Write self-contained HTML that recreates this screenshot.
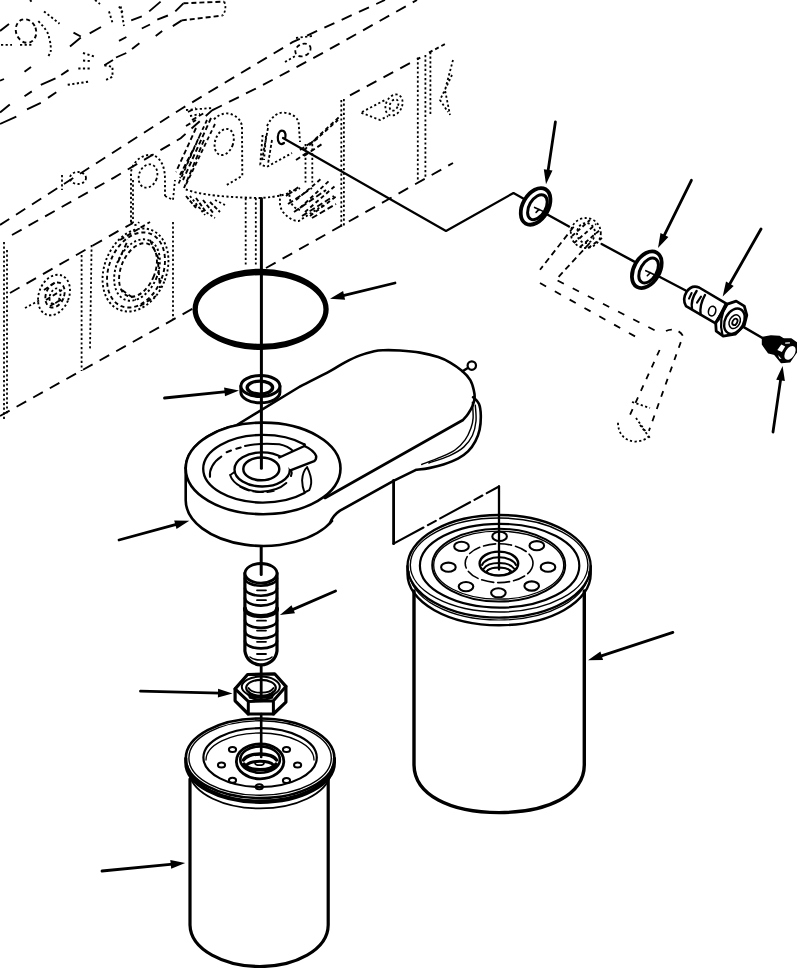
<!DOCTYPE html>
<html><head><meta charset="utf-8"><title>Filter assembly</title>
<style>html,body{margin:0;padding:0;background:#fff;}svg{display:block}</style></head>
<body><svg width="797" height="968" viewBox="0 0 797 968" shape-rendering="geometricPrecision">
<rect width="797" height="968" fill="#fff"/>
<g id="phantom" stroke-linecap="butt">
<path d="M0 416 L193 308.5 M266 268 L453 163" fill="none" stroke="#000" stroke-width="1.9" stroke-dasharray="11 8" />
<path d="M0 225 L180.7 109.2 L292.5 42.2 L385 0" fill="none" stroke="#000" stroke-width="1.9" stroke-dasharray="11 8" />
<path d="M12 235 L114.5 177.3 L180.7 138.2 L212 110.4 M212 110.4 L260.4 86.3 L320.6 54.2 L417 0" fill="none" stroke="#000" stroke-width="1.9" stroke-dasharray="11 8" />
<path d="M10 293 L120 230 L133 223" fill="none" stroke="#000" stroke-width="1.9" stroke-dasharray="11 8" />
<path d="M0 31 L9 24 M24.5 71.8 L31 66.9 M0 80.7 L4 79 M24.5 96.2 L31.8 91.4 M40.8 84.8 L55.5 78.3 M61.2 75 L68.5 70.1 M0 112.6 L9.8 104.4 M27 109.3 L40.8 102.8 M48 97.9 L56.3 92.2 M0 124 L16.3 116.6 M70 46.5 L80.8 37.5 M73.5 32.6 L80.8 36.5 M89.7 33.4 L101 27 M119 40.8 L126.4 37 M104.4 65.3 L113 60 M116 57.5 L126.3 53 M131.2 20.4 L141.8 16.3 M149.2 11.4 L160.6 1.6 M141.8 28.5 L150 24.5 M157.3 19.6 L167.9 15.5 M155.7 35.9 L162.2 31 M132 49 L139.4 43.2 M172.8 26.1 L181.8 20.4 M175.3 11.4 L183.4 3.3" fill="none" stroke="#000" stroke-width="1.9" />
<path d="M183.4 3.3 L224.2 1.6 M181.8 20.4 L222.6 15.5" fill="none" stroke="#000" stroke-width="1.9" stroke-dasharray="5 3" />
<path d="M224.2 1.6 C226 6 226 11 222.6 15.5" fill="none" stroke="#000" stroke-width="1.8" stroke-dasharray="2.2 2.4" />
<ellipse cx="26" cy="31" rx="10" ry="12" fill="none" stroke="#000" stroke-width="1.9" stroke-dasharray="4 3" transform="rotate(-20 26 31)"/>
<path d="M1 44.9 L12 44.9 M20 44.9 L32 44.9" fill="none" stroke="#000" stroke-width="1.9" stroke-dasharray="2.2 2.4" />
<path d="M44 11.4 L59.5 23.7" fill="none" stroke="#000" stroke-width="1.9" stroke-dasharray="2.2 2.4" />
<path d="M38.3 21.2 C44 27 49 33 49 37.5 C51 44 51 49 50.6 52.2 L47.3 58" fill="none" stroke="#000" stroke-width="1.9" stroke-dasharray="2.2 2.4" />
<path d="M83 53 L96 57 M83 60.5 L91.5 61.2 M78.3 68.5 L89.7 68.5 M67.7 84.8 L89 81.6" fill="none" stroke="#000" stroke-width="2.0" stroke-dasharray="2.2 2.4" />
<path d="M104.4 65.3 L112.5 66.9 L112.5 76.7 L104.4 80.7" fill="none" stroke="#000" stroke-width="1.9" stroke-dasharray="2.2 2.4" />
<path d="M109 11.4 L112.5 22.8 M120.7 6.5 L124 26 M119 6.5 L123 13" fill="none" stroke="#000" stroke-width="1.9" stroke-dasharray="2.2 2.4" />
<path d="M95 0 L100 4 M30 0 L32 2" fill="none" stroke="#000" stroke-width="1.9" stroke-dasharray="2.2 2.4" />
<path d="M4 242 L4 421 M7 250 L7 415" fill="none" stroke="#000" stroke-width="1.8" stroke-dasharray="2.2 2.4" />
<path d="M81.6 255 L81.6 371 M91.6 245 L90 350" fill="none" stroke="#000" stroke-width="1.8" stroke-dasharray="2.2 2.4" />
<path d="M173 222 L173 320" fill="none" stroke="#000" stroke-width="1.8" stroke-dasharray="2.2 2.4" />
<path d="M133 180 L133 223" fill="none" stroke="#000" stroke-width="1.8" stroke-dasharray="2.2 2.4" />
<ellipse cx="135.5" cy="270" rx="31" ry="43" fill="none" stroke="#000" stroke-width="1.9" stroke-dasharray="2.2 2.4" transform="rotate(22 135.5 270)"/>
<ellipse cx="136" cy="270" rx="27" ry="39" fill="none" stroke="#000" stroke-width="1.9" stroke-dasharray="4 3" transform="rotate(22 136 270)"/>
<ellipse cx="137" cy="270" rx="21" ry="32" fill="none" stroke="#000" stroke-width="1.9" stroke-dasharray="2.2 2.4" transform="rotate(22 137 270)"/>
<ellipse cx="138" cy="270" rx="17" ry="28" fill="none" stroke="#000" stroke-width="1.9" stroke-dasharray="4 3" transform="rotate(22 138 270)"/>
<ellipse cx="54" cy="295" rx="15" ry="21" fill="none" stroke="#000" stroke-width="1.9" stroke-dasharray="2.2 2.4" transform="rotate(22 54 295)"/>
<ellipse cx="55" cy="295" rx="9" ry="13" fill="none" stroke="#000" stroke-width="1.9" stroke-dasharray="4 3" transform="rotate(22 55 295)"/>
<ellipse cx="55" cy="296" rx="5" ry="8" fill="none" stroke="#000" stroke-width="1.8" stroke-dasharray="2.2 2.4" transform="rotate(22 55 296)"/>
<path d="M25 308 L40 300" fill="none" stroke="#000" stroke-width="1.8" stroke-dasharray="2.2 2.4" />
<ellipse cx="78" cy="178" rx="8" ry="6" fill="none" stroke="#000" stroke-width="1.8" stroke-dasharray="2.2 2.4"/>
<path d="M62 175 L62 190" fill="none" stroke="#000" stroke-width="1.8" stroke-dasharray="2.2 2.4" />
<path d="M131 222 L131 172 C133 160 145 152 155 156 C162 160 165 168 165 180 L165 196" fill="none" stroke="#000" stroke-width="1.9" stroke-dasharray="2.2 2.4" />
<ellipse cx="148" cy="176" rx="9" ry="12" fill="none" stroke="#000" stroke-width="1.8" stroke-dasharray="2.2 2.4" transform="rotate(20 148 176)"/>
<path d="M131 222 C133 226 137 226 139 222" fill="none" stroke="#000" stroke-width="1.8" stroke-dasharray="2.2 2.4" />
<path d="M165 196 L173 200 L175 180" fill="none" stroke="#000" stroke-width="1.8" stroke-dasharray="2.2 2.4" />
<path d="M214 119.4 C220 113 228 112 233 115 C239 118 242 122 242 128 L242.3 175.8 L225 186" fill="none" stroke="#000" stroke-width="1.9" stroke-dasharray="2.2 2.4" />
<ellipse cx="224.2" cy="142" rx="9" ry="13.5" fill="none" stroke="#000" stroke-width="1.9" stroke-dasharray="2.2 2.4" transform="rotate(20 224.2 142)"/>
<path d="M215 124 L185.8 185 M207 120 L180 178 M200 135 L178 185" fill="none" stroke="#000" stroke-width="1.8" stroke-dasharray="4 3" />
<path d="M186 110 L212 108 M190 116 L200 114" fill="none" stroke="#000" stroke-width="1.8" stroke-dasharray="2.2 2.4" />
<path d="M185.8 189.4 C200 195 226 197.3 260 198 C278 197 290 194 300 188" fill="none" stroke="#000" stroke-width="1.9" stroke-dasharray="2.2 2.4" />
<path d="M190 196 L205 215 M215 200 L225 205 M195 205 L215 218" fill="none" stroke="#000" stroke-width="1.8" stroke-dasharray="2.2 2.4" />
<path d="M245.7 198 L245.7 266 M255.8 198 L255.8 266" fill="none" stroke="#000" stroke-width="1.8" stroke-dasharray="2.2 2.4" />
<path d="M267 126 C272 116 278 112.6 283 112.6 C292 113 298.7 118 298.7 123.9 L300 142" fill="none" stroke="#000" stroke-width="1.9" stroke-dasharray="2.2 2.4" />
<path d="M262.6 135 L260.3 164.5 L267 166.8 L292 153 M266 136 L264 160" fill="none" stroke="#000" stroke-width="1.9" stroke-dasharray="2.2 2.4" />
<path d="M343.9 99 L343.9 225.5" fill="none" stroke="#000" stroke-width="1.8" stroke-dasharray="2.2 2.4" />
<path d="M341.3 100 L341.3 228" fill="none" stroke="#000" stroke-width="1.8" stroke-dasharray="2.2 2.4" />
<path d="M280.7 193.9 C279 203 280 208 283 212 C288 218 293 221 298.7 221 L323.6 205" fill="none" stroke="#000" stroke-width="1.9" stroke-dasharray="2.2 2.4" />
<path d="M290 190 C288 200 292 208 300 210" fill="none" stroke="#000" stroke-width="1.9" stroke-dasharray="2.2 2.4" />
<path d="M300 208 L330 180 M305 212 L335 186 M296 200 L322 178 M310 216 L338 195" fill="none" stroke="#000" stroke-width="1.9" stroke-dasharray="4 3" />
<path d="M305.5 144 L305.5 182.6 M312.3 144 L312.3 182.6" fill="none" stroke="#000" stroke-width="1.8" stroke-dasharray="2.2 2.4" />
<path d="M310 144 L341.6 114.8 M304 150 L338 120" fill="none" stroke="#000" stroke-width="1.8" stroke-dasharray="4 3" />
<ellipse cx="303" cy="50" rx="8" ry="6" fill="none" stroke="#000" stroke-width="1.8" stroke-dasharray="4 3" transform="rotate(-25 303 50)"/>
<path d="M296 38 L312 36 M285 62 L297 55" fill="none" stroke="#000" stroke-width="1.8" stroke-dasharray="2.2 2.4" />
<path d="M350 95.3 L420.3 57.6" fill="none" stroke="#000" stroke-width="1.9" stroke-dasharray="11 8" />
<path d="M417.8 57.6 L417.8 180.6 M425.4 55 L425.4 178 M430.4 52 L430.4 115" fill="none" stroke="#000" stroke-width="1.8" stroke-dasharray="2.2 2.4" />
<path d="M429 52.6 L445.4 43.8" fill="none" stroke="#000" stroke-width="1.9" stroke-dasharray="4 3" />
<path d="M453 60 L445 90 L450 115 M452 75 L440 100 L448 112" fill="none" stroke="#000" stroke-width="1.8" stroke-dasharray="2.2 2.4" />
<ellipse cx="394" cy="105" rx="8" ry="11" fill="none" stroke="#000" stroke-width="1.8" stroke-dasharray="2.2 2.4" transform="rotate(25 394 105)"/>
<ellipse cx="394" cy="105" rx="4" ry="6" fill="none" stroke="#000" stroke-width="1.8" stroke-dasharray="2.2 2.4" transform="rotate(25 394 105)"/>
<path d="M361.4 112.8 L380 120 L388 116 M362 112 L385 100" fill="none" stroke="#000" stroke-width="1.8" stroke-dasharray="2.2 2.4" />
<ellipse cx="585.8" cy="233" rx="15" ry="15" fill="none" stroke="#000" stroke-width="1.8" stroke-dasharray="2.2 2.4"/>
<ellipse cx="586" cy="233" rx="9" ry="10" fill="none" stroke="#000" stroke-width="1.8" stroke-dasharray="2.2 2.4"/>
<path d="M572 236 L590 220 M574 243 L596 224 M580 247 L600 230 M588 248 L602 238" fill="none" stroke="#000" stroke-width="1.9" stroke-dasharray="4 3" />
<path d="M573.7 226.8 L540 269.8 M589.8 243 L557.6 277.9" fill="none" stroke="#000" stroke-width="1.8" stroke-dasharray="6 4" />
<path d="M557.6 280.5 L657 331.5 M540 283 L640.8 339.6" fill="none" stroke="#000" stroke-width="1.8" stroke-dasharray="7 10" />
<path d="M666 331 C672 328 680 330 683 336 L648.9 430.9 M659.6 350 L630 414.8" fill="none" stroke="#000" stroke-width="1.8" stroke-dasharray="6 7" />
<path d="M618 422.8 C618 434 625 441 635.4 441.6 C642 441 647 439 648.9 436" fill="none" stroke="#000" stroke-width="1.8" stroke-dasharray="2.2 2.4" />
<path d="M632 402 L650 408 M636 418 L646 432 M640 425 L650 438" fill="none" stroke="#000" stroke-width="1.8" stroke-dasharray="2.2 2.4" />
<path d="M211 118 L183 180 M196 128 L176 172 M204 140 L184 188 M193 150 L180 175" fill="none" stroke="#000" stroke-width="1.9" stroke-dasharray="5 3" />
<path d="M188 112 L196 108 M192 120 L204 113 M186 126 L196 120" fill="none" stroke="#000" stroke-width="1.9" stroke-dasharray="5 3" />
<path d="M196 198 L206 212 M203 200 L214 214 M210 202 L220 212 M186 196 L196 208" fill="none" stroke="#000" stroke-width="1.9" stroke-dasharray="4 2" />
<path d="M286 196 L300 186 M288 204 L312 188 M294 212 L326 190 M302 216 L334 196 M312 218 L336 204" fill="none" stroke="#000" stroke-width="1.9" stroke-dasharray="6 3" />
<path d="M268 128 L262 160 M272 140 L268 164" fill="none" stroke="#000" stroke-width="1.8" stroke-dasharray="3 2" />
<path d="M300 150 L318 138 M304 156 L322 144 M296 160 L308 152" fill="none" stroke="#000" stroke-width="1.9" stroke-dasharray="5 3" />
<path d="M120 240 L150 222 M118 262 L128 240 M122 290 L136 300 M140 306 L156 296 M150 240 L160 262 M158 262 L160 288" fill="none" stroke="#000" stroke-width="1.9" stroke-dasharray="5 3" />
<path d="M44 290 L56 282 M46 300 L62 290 M50 306 L64 298" fill="none" stroke="#000" stroke-width="1.9" stroke-dasharray="5 3" />
</g>
<g id="solid" stroke-linecap="round" stroke-linejoin="round">
<path fill="#000" fill-rule="evenodd" d="M192.5 309.35 a68.1 40.65 0 1 0 136.2 0 a68.1 40.65 0 1 0 -136.2 0 Z M197.8 309.5 a62.8 34.3 0 1 0 125.6 0 a62.8 34.3 0 1 0 -125.6 0 Z"/>
<path d="M240.9 386 L240.9 392.3 A19.5 10.5 0 0 0 279.9 392.3 L279.9 386" fill="#fff" stroke="#000" stroke-width="3.0" />
<ellipse cx="260.4" cy="386" rx="19.5" ry="10.5" fill="#fff" stroke="#000" stroke-width="3.0" />
<ellipse cx="259.9" cy="387.6" rx="12.7" ry="6.5" fill="none" stroke="#000" stroke-width="3.4" />
<path d="M185.7 468 A77.4 45.8 0 0 1 236 425.5 L300 386.5 C305.0 383.9 322.5 375.1 330 371.1 C337.5 367.1 340.0 364.9 345 362.3 C350.0 359.7 355.2 357.2 360.1 355.4 C365.0 353.5 370.4 352.1 374.2 351.2 C378.0 350.3 378.9 350.3 383.2 350.2 C387.5 350.1 393.9 350.1 400 350.5 C406.1 350.9 413.7 351.5 420.1 352.6 C426.5 353.7 433.2 355.4 438.2 357.1 C443.2 358.8 446.2 360.3 450.2 362.6 C454.2 364.9 458.8 368.2 462.2 371.1 C465.6 374.0 468.4 377.0 470.3 380.2 C472.2 383.4 473.1 387.2 473.8 390.2 C474.5 393.2 474.8 395.4 474.6 398 C474.4 400.6 473.6 403.3 472.5 406 C471.4 408.7 469.6 411.7 468 414 C466.4 416.3 463.8 419.0 463 420  L325 498" fill="#fff" stroke="#000" stroke-width="2.6" />
<path d="M473.1 397.2 C474.1 398.3 477.6 400.7 478.9 403.7 C480.2 406.7 480.7 411.0 480.8 415.3 C480.9 419.6 480.5 425.4 479.6 429.7 C478.7 434.0 477.2 437.7 475.3 441.3 C473.4 444.9 470.9 448.5 468 451.4 C465.1 454.3 462.0 456.5 457.9 458.7 C453.8 460.9 448.2 462.9 443.4 464.5 C438.6 466.1 433.5 467.2 428.9 468.1 C424.3 469.0 418.1 469.5 416 469.8  L394 480.6 L340 510.7 C335 514 332 518 330 523" fill="none" stroke="#000" stroke-width="2.6" />
<path d="M472.4 402.2 C472.5 404.9 473.4 413.8 473.1 418.1 C472.9 422.5 472.2 424.7 470.9 428.3 C469.6 431.9 467.8 436.3 465.1 439.9 C462.5 443.5 459.1 447.1 455 450 C450.9 452.9 446.1 454.8 440.5 457.2 C434.9 459.6 424.8 463.3 421.7 464.5 " fill="none" stroke="#000" stroke-width="1.43" />
<path d="M475.3 405.1 C475.4 407.8 476.5 415.9 476 421 C475.5 426.1 474.4 431.1 472.4 435.5 C470.3 439.9 467.6 443.7 463.7 447.1 C459.8 450.5 455.0 453.2 449.2 455.8 C443.4 458.4 432.3 461.8 428.9 463 " fill="none" stroke="#000" stroke-width="1.43" />
<ellipse cx="471.8" cy="365.6" rx="4.2" ry="4.2" fill="#fff" stroke="#000" stroke-width="2.21" />
<line x1="467.8" y1="368" x2="462.5" y2="371.3" stroke="#000" stroke-width="2.47" />
<ellipse cx="263.1" cy="468.4" rx="77.4" ry="45.8" fill="#fff" stroke="#000" stroke-width="2.6" />
<path d="M185.7 468 L185.7 500 A77.4 45.8 0 0 0 332 521" fill="none" stroke="#000" stroke-width="2.6" />
<path d="M304.5 444.5 A59.7 33.8 0 1 0 304.5 493" fill="none" stroke="#000" stroke-width="2.34" />
<path d="M210 476.8 C209 470 213 462 221.3 456.6" fill="none" stroke="#000" stroke-width="2.08" />
<path d="M226.6 452.2 L231 450.5 M236.3 448.7 L240.7 447.5" fill="none" stroke="#000" stroke-width="2.08" />
<path d="M245 446 C256 443.5 268 443.3 279.3 444.3 C285 445.5 290 448 293.4 451.3" fill="none" stroke="#000" stroke-width="1.95" />
<ellipse cx="262.2" cy="469.4" rx="27.7" ry="17.1" fill="#fff" stroke="#000" stroke-width="2.34" />
<ellipse cx="261.3" cy="468.9" rx="18" ry="11.4" fill="none" stroke="#000" stroke-width="2.47" />
<path d="M230.1 475 C233 484 245 491 260 491.7 C272 491.5 281 488 286.3 483" fill="none" stroke="#000" stroke-width="1.95" />
<path d="M231 474.5 L234.5 472" fill="none" stroke="#000" stroke-width="1.82" />
<path d="M240 487 C248 492 262 494 274 491" fill="none" stroke="#000" stroke-width="1.43" stroke-dasharray="10 4"/>
<path d="M279.3 457.5 L304.5 446 C310 448.5 314.5 452 316.2 456.1 C316.3 458.5 315.5 460.3 314.2 461.1 L291 470.2" fill="#fff" stroke="#000" stroke-width="2.47" />
<path d="M304.5 446 L304.5 444.5" fill="none" stroke="#000" stroke-width="2.34" />
<path d="M307.1 467.1 C304 470 302.5 474 302.1 480.2 C302.3 485 303 488.5 304.1 491.2 M307.1 467.1 C310 473 311.5 478 311.2 483.2 C310.8 486.5 310 488.8 309.2 490.2 L304.5 492.5" fill="none" stroke="#000" stroke-width="1.95" />
<path d="M291 470.2 C292 472 292 474 291 476" fill="none" stroke="#000" stroke-width="2.08" />
<path d="M393.6 480.5 L393.6 543.7" fill="none" stroke="#000" stroke-width="2.8" />
<path d="M393.6 543.7 L499 486.5" fill="none" stroke="#000" stroke-width="2.1" stroke-dasharray="34 5 9 5"/>
<ellipse cx="499.1" cy="566.3" rx="91.6" ry="51.3" fill="#fff" stroke="#000" stroke-width="2.4" />
<ellipse cx="499.1" cy="565" rx="88.8" ry="47" fill="none" stroke="#000" stroke-width="1.4" />
<ellipse cx="499.6" cy="565.7" rx="79.7" ry="41.9" fill="none" stroke="#000" stroke-width="2.2" />
<ellipse cx="498.7" cy="565.2" rx="66.5" ry="36.4" fill="none" stroke="#000" stroke-width="2.0" />
<ellipse cx="498.7" cy="565.2" rx="65" ry="34" fill="none" stroke="#000" stroke-width="1.3" />
<path d="M407.5 566.3 L407.5 573.9 A91.6 51.3 0 0 0 590.7 573.9 L590.7 566.3" fill="none" stroke="#000" stroke-width="2.4" />
<path d="M409 571 A90 49 0 0 0 589 571" fill="none" stroke="#000" stroke-width="1.2" />
<ellipse cx="499.1" cy="563.2" rx="33.9" ry="19.4" fill="none" stroke="#000" stroke-width="1.6" stroke-dasharray="12 4"/>
<ellipse cx="498.9" cy="563.6" rx="19.3" ry="12" fill="none" stroke="#000" stroke-width="2.4" />
<path d="M482 565 A17.5 10 0 0 1 516 565" fill="none" stroke="#000" stroke-width="2.0" />
<path d="M483.5 569 A16.5 9 0 0 1 514.5 569" fill="none" stroke="#000" stroke-width="2.0" />
<path d="M486 572 A14 7.5 0 0 1 512 572" fill="none" stroke="#000" stroke-width="1.8" />
<ellipse cx="498.5" cy="571.5" rx="11.5" ry="3.8" fill="none" stroke="#000" stroke-width="1.6" />
<ellipse cx="499.6" cy="536.4" rx="7.3" ry="4.6" fill="none" stroke="#000" stroke-width="2.1" />
<ellipse cx="536.8" cy="545.7" rx="7.3" ry="4.6" fill="none" stroke="#000" stroke-width="2.1" />
<ellipse cx="548" cy="567.2" rx="7.3" ry="4.6" fill="none" stroke="#000" stroke-width="2.1" />
<ellipse cx="531.7" cy="586" rx="7.3" ry="4.6" fill="none" stroke="#000" stroke-width="2.1" />
<ellipse cx="498.4" cy="592.8" rx="7.3" ry="4.6" fill="none" stroke="#000" stroke-width="2.1" />
<ellipse cx="466" cy="586.6" rx="7.3" ry="4.6" fill="none" stroke="#000" stroke-width="2.1" />
<ellipse cx="448.4" cy="567.2" rx="7.3" ry="4.6" fill="none" stroke="#000" stroke-width="2.1" />
<ellipse cx="461.5" cy="546.4" rx="7.3" ry="4.6" fill="none" stroke="#000" stroke-width="2.1" />
<line x1="499" y1="486.5" x2="499" y2="567" stroke="#000" stroke-width="1.8" />
<path d="M414 591 L414 765 C414.5 795 450 812.6 499 812.6 C548 812.6 584 795 584.3 765 L584.3 591" fill="none" stroke="#000" stroke-width="3.4" />
<path d="M244.9 573 L244.9 651 C246 659 252 664.5 261 665 C270 664.5 276 659 277 651 L277 573" fill="#fff" stroke="#000" stroke-width="3.2" />
<ellipse cx="261" cy="573.3" rx="16" ry="9.8" fill="#fff" stroke="#000" stroke-width="2.8" />
<path d="M245 578.2 A16 7.5 0 0 0 277 578.2" fill="none" stroke="#000" stroke-width="2.6" />
<path d="M245 588.2 A16 7.5 0 0 0 277 588.2" fill="none" stroke="#000" stroke-width="2.6" />
<path d="M245 598.1 A16 7.5 0 0 0 277 598.1" fill="none" stroke="#000" stroke-width="2.6" />
<path d="M245 608.7 A16 7.5 0 0 0 277 608.7" fill="none" stroke="#000" stroke-width="4.2" />
<path d="M245 620.4 A16 7.5 0 0 0 277 620.4" fill="none" stroke="#000" stroke-width="2.6" />
<path d="M245 630.9 A16 7.5 0 0 0 277 630.9" fill="none" stroke="#000" stroke-width="2.6" />
<path d="M245 640.9 A16 7.5 0 0 0 277 640.9" fill="none" stroke="#000" stroke-width="2.6" />
<line x1="257" y1="590.3" x2="266" y2="590.3" stroke="#000" stroke-width="1.8" />
<line x1="257" y1="600.2" x2="266" y2="600.2" stroke="#000" stroke-width="1.8" />
<line x1="257" y1="620.7" x2="266" y2="620.7" stroke="#000" stroke-width="1.8" />
<line x1="257" y1="630.6" x2="266" y2="630.6" stroke="#000" stroke-width="1.8" />
<line x1="257" y1="641.8" x2="266" y2="641.8" stroke="#000" stroke-width="1.8" />
<line x1="257" y1="654" x2="266" y2="654" stroke="#000" stroke-width="1.8" />
<path d="M250 657 C255 661 267 661 272 657" fill="none" stroke="#000" stroke-width="1.6" />
<path d="M235.1 688.9 L247.6 674.5 L274.6 673.8 L285.9 686.4 L285.9 702.1 L273.4 714 L248.3 714 L235.1 700.8 Z" fill="#fff" stroke="#000" stroke-width="3.2" />
<path d="M235.1 688.9 L248.3 701.4 L273.4 700.8 L285.9 686.4 M248.3 701.4 L248.3 714 M273.4 700.8 L273.4 714" fill="none" stroke="#000" stroke-width="3.0" />
<ellipse cx="260.8" cy="686.8" rx="19" ry="10.2" fill="none" stroke="#000" stroke-width="2.0" />
<ellipse cx="261" cy="687.8" rx="14.8" ry="8" fill="none" stroke="#000" stroke-width="2.2" />
<path d="M248.5 688 A13 6.5 0 0 0 273.5 688" fill="none" stroke="#000" stroke-width="1.8" />
<path d="M248.5 691.6 A13 6.5 0 0 0 273.5 691.6" fill="none" stroke="#000" stroke-width="2.0" />
<path d="M248.5 695 A13 6.5 0 0 0 273.5 695" fill="none" stroke="#000" stroke-width="2.2" />
<path d="M250 697.5 L272 697.5" fill="none" stroke="#000" stroke-width="2.4" />
<ellipse cx="260.1" cy="758.3" rx="74.3" ry="39.8" fill="#fff" stroke="#000" stroke-width="2.6" />
<ellipse cx="260.1" cy="758" rx="71.2" ry="37.2" fill="none" stroke="#000" stroke-width="1.4" />
<ellipse cx="260.1" cy="757.6" rx="56.7" ry="29.4" fill="none" stroke="#000" stroke-width="2.2" />
<path d="M206 760 A54 27 0 0 1 314 760" fill="none" stroke="#000" stroke-width="1.3" />
<path d="M185.8 758.3 L185.8 762.5 A74.3 39.8 0 0 0 334.4 762.5 L334.4 758.3" fill="none" stroke="#000" stroke-width="3.2" />
<path d="M187 765 A73.5 39.8 0 0 0 333.2 765" fill="none" stroke="#000" stroke-width="2.2" />
<path d="M189.5 774.5 A71 38.5 0 0 0 330.5 774.5" fill="none" stroke="#000" stroke-width="1.8" />
<ellipse cx="260.1" cy="761.3" rx="23.7" ry="17.5" fill="#fff" stroke="#000" stroke-width="2.8" />
<ellipse cx="260.1" cy="759.6" rx="19.8" ry="13.2" fill="none" stroke="#000" stroke-width="2.6" />
<path d="M243.5 760 A17 8 0 0 1 276.5 760" fill="none" stroke="#000" stroke-width="3.4" />
<path d="M246 765.5 A15 6.5 0 0 1 274 765.5" fill="none" stroke="#000" stroke-width="3.0" />
<path d="M244 764 A17 8.5 0 0 0 276 764" fill="none" stroke="#000" stroke-width="3.2" />
<path d="M248 769.5 L272 769.5" fill="none" stroke="#000" stroke-width="2.6" />
<ellipse cx="259.5" cy="763" rx="4.5" ry="2.2" fill="none" stroke="#000" stroke-width="1.8" />
<ellipse cx="232.5" cy="749.5" rx="3.6" ry="2.5" fill="none" stroke="#000" stroke-width="2.0" />
<ellipse cx="286.5" cy="749.5" rx="3.6" ry="2.5" fill="none" stroke="#000" stroke-width="2.0" />
<ellipse cx="297.6" cy="765" rx="3.6" ry="2.5" fill="none" stroke="#000" stroke-width="2.0" />
<ellipse cx="286.5" cy="780.6" rx="3.6" ry="2.5" fill="none" stroke="#000" stroke-width="2.0" />
<ellipse cx="259.3" cy="786.8" rx="3.6" ry="2.5" fill="none" stroke="#000" stroke-width="2.0" />
<ellipse cx="232.5" cy="780.2" rx="3.6" ry="2.5" fill="none" stroke="#000" stroke-width="2.0" />
<ellipse cx="221.5" cy="765" rx="3.6" ry="2.5" fill="none" stroke="#000" stroke-width="2.0" />
<path d="M190 779 L190 925 C190.5 950 225 966.5 259.8 966.5 C295 966.5 328 950 328.2 925 L328.2 779" fill="none" stroke="#000" stroke-width="3.2" />
<path d="M284 143 C280 146 277.5 142 277.8 137 C278 132 281 129.5 283.5 131 C285.5 132.5 285.8 136 285 139" fill="none" stroke="#000" stroke-width="2.2" />
<path d="M283 138 L446 231 L513.5 193 L525 199.5" fill="none" stroke="#000" stroke-width="2.2" />
<path d="M546.4 214 L569 226.5 M601.6 244 L634.3 261.6 M658 276 L685.7 290.5 M744.2 327.4 L764.9 339.4" fill="none" stroke="#000" stroke-width="2.4" />
<ellipse cx="535.6" cy="206.4" rx="12.8" ry="19.8" fill="#fff" stroke="#000" stroke-width="3.8" transform="rotate(30 535.6 206.4)" />
<ellipse cx="537.4" cy="207.20000000000002" rx="8.2" ry="13.6" fill="none" stroke="#000" stroke-width="3.0" transform="rotate(30 537.4 207.20000000000002)" />
<path d="M534.6 207.4 l4.5 2 l-3 3 M539.1 209.4 l4 2" fill="none" stroke="#000" stroke-width="1.6" />
<ellipse cx="646.8" cy="269.7" rx="12.8" ry="19.8" fill="#fff" stroke="#000" stroke-width="3.8" transform="rotate(30 646.8 269.7)" />
<ellipse cx="648.5999999999999" cy="270.5" rx="8.2" ry="13.6" fill="none" stroke="#000" stroke-width="3.0" transform="rotate(30 648.5999999999999 270.5)" />
<path d="M645.8 270.7 l4.5 2 l-3 3 M650.3 272.7 l4 2" fill="none" stroke="#000" stroke-width="1.6" />
<path d="M699.1 287.5 C694 285.5 689.5 287.5 686.5 292 C683.5 297 683.5 302 686 306.1 L715.2 323.2 L727.2 304.1 Z" fill="#fff" stroke="#000" stroke-width="2.6" />
<path d="M696.6 291 C692.5 297 691 303 692 309" fill="none" stroke="#000" stroke-width="2.4" />
<path d="M705 295 C701 302 699.8 308 700.6 314.6" fill="none" stroke="#000" stroke-width="2.4" />
<path d="M691.6 293 L689 298.6 M701 296.6 L697 302.6" fill="none" stroke="#000" stroke-width="2.0" />
<ellipse cx="712.1" cy="311.1" rx="3.6" ry="4.9" fill="none" stroke="#000" stroke-width="1.6" transform="rotate(15 712.1 311.1)" />
<path d="M727.2 304.1 L736.2 301.1 L744.3 306.1 L746.8 315.2 L744.3 325.2 L735.2 334.2 L723.2 336.2 L716.2 331.2 L715.7 323.2 Z" fill="#fff" stroke="#000" stroke-width="2.8" stroke-linejoin="round"/>
<path d="M725.2 304.1 L717.2 320.2 M723.5 309.5 L718.5 320.5" fill="none" stroke="#000" stroke-width="1.8" />
<path d="M727.2 304.1 C722 312 719 322 722.5 335" fill="none" stroke="#000" stroke-width="2.2" />
<ellipse cx="734.4" cy="321.2" rx="9.3" ry="13.4" fill="none" stroke="#000" stroke-width="2.4" transform="rotate(28 734.4 321.2)" />
<ellipse cx="734.7" cy="321.7" rx="5.2" ry="7.2" fill="none" stroke="#000" stroke-width="1.5" transform="rotate(28 734.7 321.7)" />
<ellipse cx="734.9" cy="321.9" rx="2.3" ry="3.4" fill="none" stroke="#000" stroke-width="1.8" transform="rotate(28 734.9 321.9)" />
<path d="M762.6 337.6 L770.9 336.1 L779.2 336.5 L783.7 339.1 L791.2 339.1 L797.5 343.6 L797.5 350.5 L789.7 361.7 L781.4 362.4 L774.6 354.2 L768.6 352.7 L762.6 344.4 Z" fill="#000" stroke="#000" stroke-width="1.6" />
<ellipse cx="790" cy="352.9" rx="4.6" ry="7.6" fill="#fff" stroke="#000" stroke-width="0.0" transform="rotate(33 790 352.9)" stroke="none"/>
<path d="M781.4 344.4 L785.2 346.6 L781.8 351.9 L777.3 350 Z" fill="#fff" stroke="#000" stroke-width="0.0" />
<path d="M785.2 342.6 L789.9 342.2 L789.9 343.4 L785.2 343.8 Z" fill="#fff" stroke="#000" stroke-width="0.0" />
<path d="M778 355 L781.6 358.9 L779.3 358.4 Z" fill="#fff" stroke="#000" stroke-width="0.0" />
<path d="M765 341 L767 343 M769.5 346.5 L772 349" fill="none" stroke="#000" stroke-width="1.0" stroke="#fff"/>
<line x1="261.2" y1="665" x2="261.2" y2="699" stroke="#000" stroke-width="2.8" />
<line x1="261.2" y1="714" x2="261.2" y2="757" stroke="#000" stroke-width="2.6" />
<line x1="261.2" y1="547" x2="261.2" y2="574.5" stroke="#000" stroke-width="3.0" />
<line x1="261.4" y1="198.5" x2="261.4" y2="468.3" stroke="#000" stroke-width="3.0" />
<line x1="499" y1="486.5" x2="499" y2="569.5" stroke="#000" stroke-width="2.3" />
<line x1="395" y1="283" x2="342.1" y2="295.8" stroke="#000" stroke-width="2.8" />
<polygon points="330,298.8 343.1,291.1 345.1,299.7" fill="#000"/>
<line x1="164.5" y1="398" x2="226.6" y2="391.7" stroke="#000" stroke-width="2.8" />
<polygon points="239,390.4 225.0,396.2 224.1,387.5" fill="#000"/>
<line x1="119" y1="540" x2="177.2" y2="524.1" stroke="#000" stroke-width="2.8" />
<polygon points="189.3,520.8 176.5,528.9 174.2,520.4" fill="#000"/>
<line x1="335.6" y1="591" x2="291.4" y2="610.1" stroke="#000" stroke-width="2.8" />
<polygon points="279.9,615 291.5,605.2 295.0,613.3" fill="#000"/>
<line x1="140.5" y1="691.2" x2="220.0" y2="693.1" stroke="#000" stroke-width="2.8" />
<polygon points="232.5,693.4 217.9,697.5 218.1,688.7" fill="#000"/>
<line x1="102" y1="871" x2="172.8" y2="864.2" stroke="#000" stroke-width="2.8" />
<polygon points="185.2,863 171.2,868.8 170.3,860.0" fill="#000"/>
<line x1="672.9" y1="632.4" x2="599.9" y2="656.3" stroke="#000" stroke-width="2.8" />
<polygon points="588,660.2 600.4,651.5 603.1,659.9" fill="#000"/>
<line x1="555.4" y1="122" x2="547.9" y2="171.9" stroke="#000" stroke-width="2.8" />
<polygon points="546,184.3 543.8,169.3 552.5,170.6" fill="#000"/>
<line x1="691.4" y1="180.3" x2="663.5" y2="236.8" stroke="#000" stroke-width="2.8" />
<polygon points="658,248 660.5,233.0 668.4,236.9" fill="#000"/>
<line x1="761" y1="229" x2="728.9" y2="285.5" stroke="#000" stroke-width="2.8" />
<polygon points="722.7,296.4 726.0,281.6 733.7,286.0" fill="#000"/>
<line x1="773" y1="432" x2="780.8" y2="378.4" stroke="#000" stroke-width="2.8" />
<polygon points="782.6,366 784.9,381.0 776.2,379.7" fill="#000"/>
</g>
</svg></body></html>
